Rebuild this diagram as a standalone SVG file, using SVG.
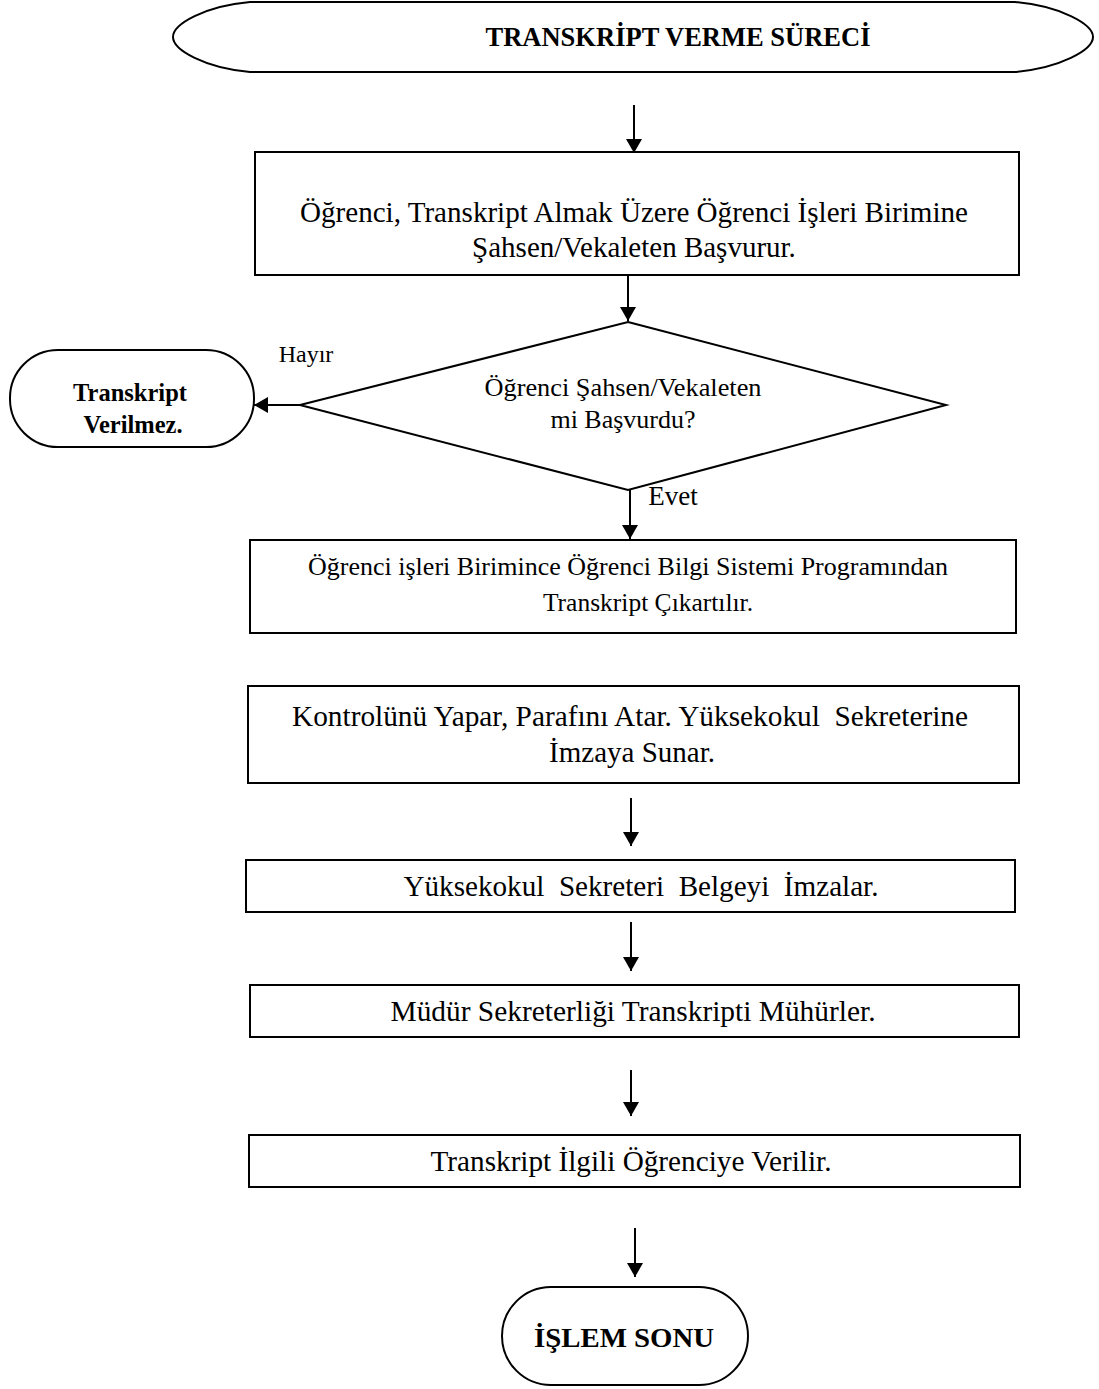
<svg xmlns="http://www.w3.org/2000/svg" width="1099" height="1389" viewBox="0 0 1099 1389">
  <style>
    .shape { fill: #ffffff; stroke: #000000; stroke-width: 2; }
    .link { fill: none; stroke: #000000; stroke-width: 2; marker-end: url(#head); }
    text { font-family: "Liberation Serif", "Times New Roman", serif; fill: #000000; text-anchor: middle; white-space: pre; }
    .b { font-weight: bold; }
    .t29 { font-size: 29px; }
  </style>
  <defs>
    <marker id="head" viewBox="0 0 14 16" refX="14" refY="8" markerWidth="14" markerHeight="16" markerUnits="userSpaceOnUse" orient="auto">
      <path d="M0,0 L14,8 L0,16 Z" fill="#000000"/>
    </marker>
  </defs>

  <!-- start terminal -->
  <g id="start">
    <path class="shape" d="M250,2 L1015,2 C1060,6 1093,24 1093,37 C1093,50 1060,68 1015,72 L250,72 C205,68 173,50 173,37 C173,24 205,6 250,2 Z"/>
    <text class="b" x="678" y="46" font-size="27" textLength="385" lengthAdjust="spacingAndGlyphs">TRANSKRİPT VERME SÜRECİ</text>
  </g>

  <!-- apply step -->
  <g id="apply">
    <rect class="shape" x="255" y="152" width="764" height="123"/>
    <text class="t29" x="634" y="222" textLength="668" lengthAdjust="spacingAndGlyphs">Öğrenci, Transkript Almak Üzere Öğrenci İşleri Birimine</text>
    <text class="t29" x="634" y="257">Şahsen/Vekaleten Başvurur.</text>
  </g>

  <!-- decision -->
  <g id="decision">
    <polygon class="shape" points="628,322 946,405 628,490 300,405"/>
    <text x="623" y="396" font-size="26" textLength="277" lengthAdjust="spacingAndGlyphs">Öğrenci Şahsen/Vekaleten</text>
    <text x="623" y="428" font-size="26">mi Başvurdu?</text>
  </g>

  <!-- refusal terminal -->
  <g id="refused">
    <rect class="shape" x="10" y="350" width="244" height="97" rx="48" ry="48"/>
    <text class="b" x="130" y="401" font-size="24.5">Transkript</text>
    <text class="b" x="133" y="433" font-size="24.5">Verilmez.</text>
  </g>

  <!-- transcript printout -->
  <g id="printout">
    <rect class="shape" x="250" y="540" width="766" height="93"/>
    <text x="628" y="575" font-size="25.5" textLength="640" lengthAdjust="spacingAndGlyphs">Öğrenci işleri Birimince Öğrenci Bilgi Sistemi Programından</text>
    <text x="648" y="611" font-size="25.5">Transkript Çıkartılır.</text>
  </g>

  <!-- check and submit -->
  <g id="check">
    <rect class="shape" x="248" y="686" width="771" height="97"/>
    <text class="t29" x="630" y="726" textLength="676" lengthAdjust="spacingAndGlyphs">Kontrolünü Yapar, Parafını Atar. Yüksekokul  Sekreterine</text>
    <text class="t29" x="632" y="762">İmzaya Sunar.</text>
  </g>

  <!-- signature -->
  <g id="sign">
    <rect class="shape" x="246" y="860" width="769" height="52"/>
    <text class="t29" x="641" y="896" textLength="475" lengthAdjust="spacingAndGlyphs">Yüksekokul  Sekreteri  Belgeyi  İmzalar.</text>
  </g>

  <!-- seal -->
  <g id="seal">
    <rect class="shape" x="250" y="985" width="769" height="52"/>
    <text class="t29" x="633" y="1021" textLength="485" lengthAdjust="spacingAndGlyphs">Müdür Sekreterliği Transkripti Mühürler.</text>
  </g>

  <!-- hand over -->
  <g id="handover">
    <rect class="shape" x="249" y="1135" width="771" height="52"/>
    <text class="t29" x="631" y="1171" textLength="401" lengthAdjust="spacingAndGlyphs">Transkript İlgili Öğrenciye Verilir.</text>
  </g>

  <!-- end terminal -->
  <g id="end">
    <rect class="shape" x="502" y="1287" width="246" height="98" rx="49" ry="49"/>
    <text class="b" x="624" y="1347" font-size="28" textLength="180" lengthAdjust="spacingAndGlyphs">İŞLEM SONU</text>
  </g>

  <!-- connectors -->
  <g id="connectors">
    <line class="link" x1="634" y1="105" x2="634" y2="153"/>
    <line class="link" x1="628" y1="276" x2="628" y2="321"/>
    <line class="link" x1="300" y1="405" x2="254" y2="405"/>
    <line class="link" x1="630" y1="490" x2="630" y2="539"/>
    <line class="link" x1="631" y1="798" x2="631" y2="846"/>
    <line class="link" x1="631" y1="922" x2="631" y2="971"/>
    <line class="link" x1="631" y1="1070" x2="631" y2="1116"/>
    <line class="link" x1="635" y1="1228" x2="635" y2="1277"/>
    <text x="306" y="362" font-size="24">Hayır</text>
    <text x="673" y="505" font-size="27">Evet</text>
  </g>
</svg>
